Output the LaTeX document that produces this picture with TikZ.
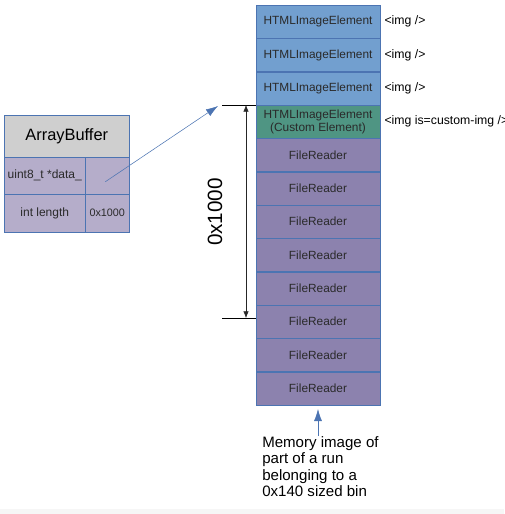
\documentclass[tikz,border=0pt]{standalone}
\usepackage{fontspec}
\setmainfont{Liberation Sans}
\usetikzlibrary{positioning, calc}
\usetikzlibrary{arrows.meta}

\definecolor{htmlblue}{HTML}{729FCF}
\definecolor{customteal}{HTML}{4F9583}
\definecolor{readerpurple}{HTML}{8C82AE}
\definecolor{cellpurple}{HTML}{B5ADCA}
\definecolor{headgray}{HTML}{CFCFCF}
\definecolor{edgeblue}{HTML}{4C74B2}
\definecolor{textgray}{HTML}{2A2A2A}

\tikzset{
    memcell/.style={draw=edgeblue, minimum width=93pt, minimum height=24.6pt,
        inner sep=0pt, align=center, text=textgray,
        font=\fontsize{8.9}{9.9}\selectfont},
    abcell/.style={draw=edgeblue, fill=cellpurple, anchor=north west,
        inner sep=0pt, text=textgray, font=\fontsize{9}{10}\selectfont},
    taglabel/.style={right, xshift=3pt, inner sep=0pt, text=black,
        font=\fontsize{9.2}{10}\selectfont},
    bluearrow/.style={draw=edgeblue, -{Latex[length=9pt,width=6pt]}}
}

\begin{document}
\begin{tikzpicture}[x=0.75pt, y=-0.75pt]
            \useasboundingbox (0,0) rectangle (504,514);
            \fill[gray!7] (0,509) rectangle (504,514);
            % memory column
            \node[memcell, fill=htmlblue] (m0) at (318,21.7) {HTMLImageElement};
            \node[memcell, fill=htmlblue, below=0pt of m0] (m1) {HTMLImageElement};
            \node[memcell, fill=htmlblue, below=0pt of m1] (m2) {HTMLImageElement};
            \node[memcell, fill=customteal, below=0pt of m2] (m3) {HTMLImageElement\\(Custom Element)};
            \foreach \i [remember=\i as \last (initially 3)] in {4,...,11}{
                \node[memcell, fill=readerpurple, below=0pt of m\last] (m\i) {FileReader};
            }
            \foreach \i in {0,1,2}{
                \node[taglabel] (tag\i) at (m\i.east) {<img />};
            }
            \node[taglabel] (tag3) at (m3.east) {<img is=custom-img />};
            % ArrayBuffer
            \node[abcell, fill=headgray, minimum width=93.75pt, minimum height=31.5pt,
                font=\fontsize{12.3}{14}\selectfont, text=black] (abhead) at (4,115) {ArrayBuffer};
            \node[abcell, minimum width=60.75pt, minimum height=27.75pt] (abdata) at (4,157) {uint8\_t *data\_};
            \node[abcell, minimum width=33pt, minimum height=27.75pt] (abptr) at (85,157) {};
            \node[abcell, minimum width=60.75pt, minimum height=28.5pt] (ablen) at (4,194) {int length};
            \node[abcell, minimum width=33pt, minimum height=28.5pt,
                font=\fontsize{8.1}{9}\selectfont] (abval) at (85,194) {0x1000};
            \coordinate (ptrtip) at (218,106);
            \draw[bluearrow] ([shift={(-2,6)}]abptr.center) -- (ptrtip);
            % size of the buffer
            \coordinate (dimtop) at (222,105);
            \coordinate (dimbot) at (222,318);
            \draw (dimtop) -- (dimtop -| m3.west);
            \draw (dimbot) -- (dimbot -| m9.west);
            \draw[{Latex[length=5pt,width=4pt]}-{Latex[length=5pt,width=4pt]}, black!85]
                ($(dimtop)+(24,0)$) -- ($(dimbot)+(24,0)$);
            \node[rotate=90, font=\fontsize{15.5}{18}\selectfont] (dimlabel) at (215,212) {0x1000};
            % caption
            \node[anchor=north west, align=left, inner sep=0pt,
                font=\fontsize{11.3}{12.4}\selectfont] (caption) at (262,436)
                {Memory image of\\part of a run\\belonging to a\\0x140 sized bin};
            \draw[bluearrow] (caption.north -| m11.south) -- ([yshift=-3pt]m11.south);
        \end{tikzpicture}
\end{document}
